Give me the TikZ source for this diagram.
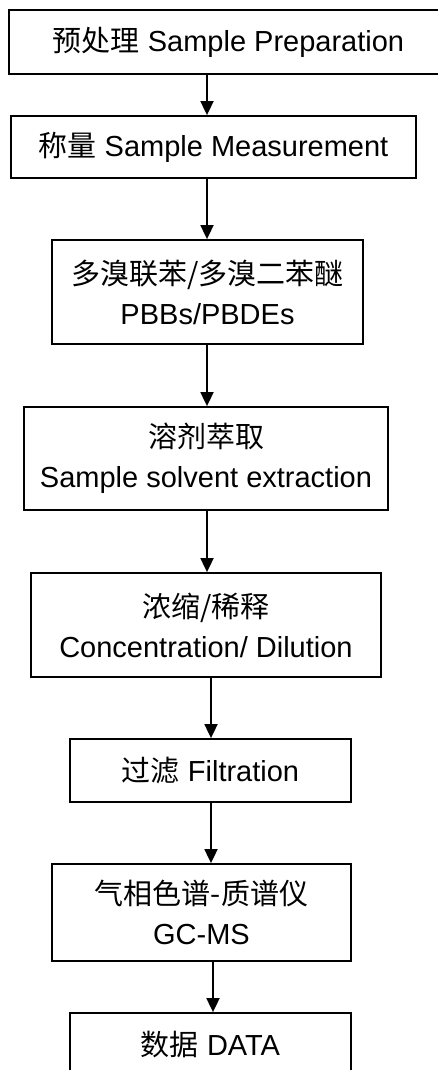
\documentclass[tikz,border=0pt]{standalone}
\usepackage{fontspec}
\setmainfont{Liberation Sans}
\newfontfamily\cjk{Noto Sans CJK SC}
\usetikzlibrary{arrows.meta}

\begin{document}
\begin{tikzpicture}[x=1pt,y=-1pt,
	stage/.style={draw,line width=1.8pt,inner sep=0pt,align=center,font=\fontsize{29}{40}\selectfont},
	flow/.style={line width=1.8pt,-{Triangle[length=14pt,width=13pt]}}]


	\useasboundingbox (0,0) rectangle (438,1070);
	\clip (0,0) rectangle (438,1070);
	\fill[white] (0,0) rectangle (438,1070);

	\coordinate (colA) at (207,0);
	\coordinate (colB) at (211,0);
	\coordinate (colC) at (213,0);

	\node[stage,draw=none,minimum width=437pt,minimum height=62pt] (prep) at (228.5,42) {{\cjk 预处理} Sample Preparation};
	\draw[line width=1.8pt] ([xshift=40pt]prep.north east) -- (prep.north west) -- (prep.south west) -- ([xshift=40pt]prep.south east);
	\node[stage,minimum width=405pt,minimum height=62pt]  (measure) at (213.5,147)  {{\cjk 称量} Sample Measurement};
	\node[stage,minimum width=311pt,minimum height=104pt] (pbb)     at (207.5,292)  {{\cjk 多溴联苯/多溴二苯醚}\\PBBs/PBDEs};
	\node[stage,minimum width=364pt,minimum height=103pt] (extract) at (206,458.5)  {{\cjk 溶剂萃取}\\Sample solvent extraction};
	\node[stage,minimum width=350pt,minimum height=104pt] (conc)    at (206,625)    {{\cjk 浓缩/稀释}\\Concentration/ Dilution};
	\node[stage,minimum width=281pt,minimum height=63pt]  (filter)  at (210.5,770.5) {{\cjk 过滤} Filtration};
	\node[stage,minimum width=299pt,minimum height=97pt]  (gcms)    at (201.5,912.5) {{\cjk 气相色谱-质谱仪}\\GC-MS};
	\node[stage,minimum width=281pt,minimum height=63pt]  (data)    at (210.5,1044.5) {{\cjk 数据} DATA};

	\draw[flow] (prep.south -| colA)    -- (measure.north -| colA);
	\draw[flow] (measure.south -| colA) -- (pbb.north -| colA);
	\draw[flow] (pbb.south -| colA)     -- (extract.north -| colA);
	\draw[flow] (extract.south -| colA) -- (conc.north -| colA);
	\draw[flow] (conc.south -| colB)    -- (filter.north -| colB);
	\draw[flow] (filter.south -| colB)  -- (gcms.north -| colB);
	\draw[flow] (gcms.south -| colC)    -- (data.north -| colC);

\end{tikzpicture}
\end{document}
